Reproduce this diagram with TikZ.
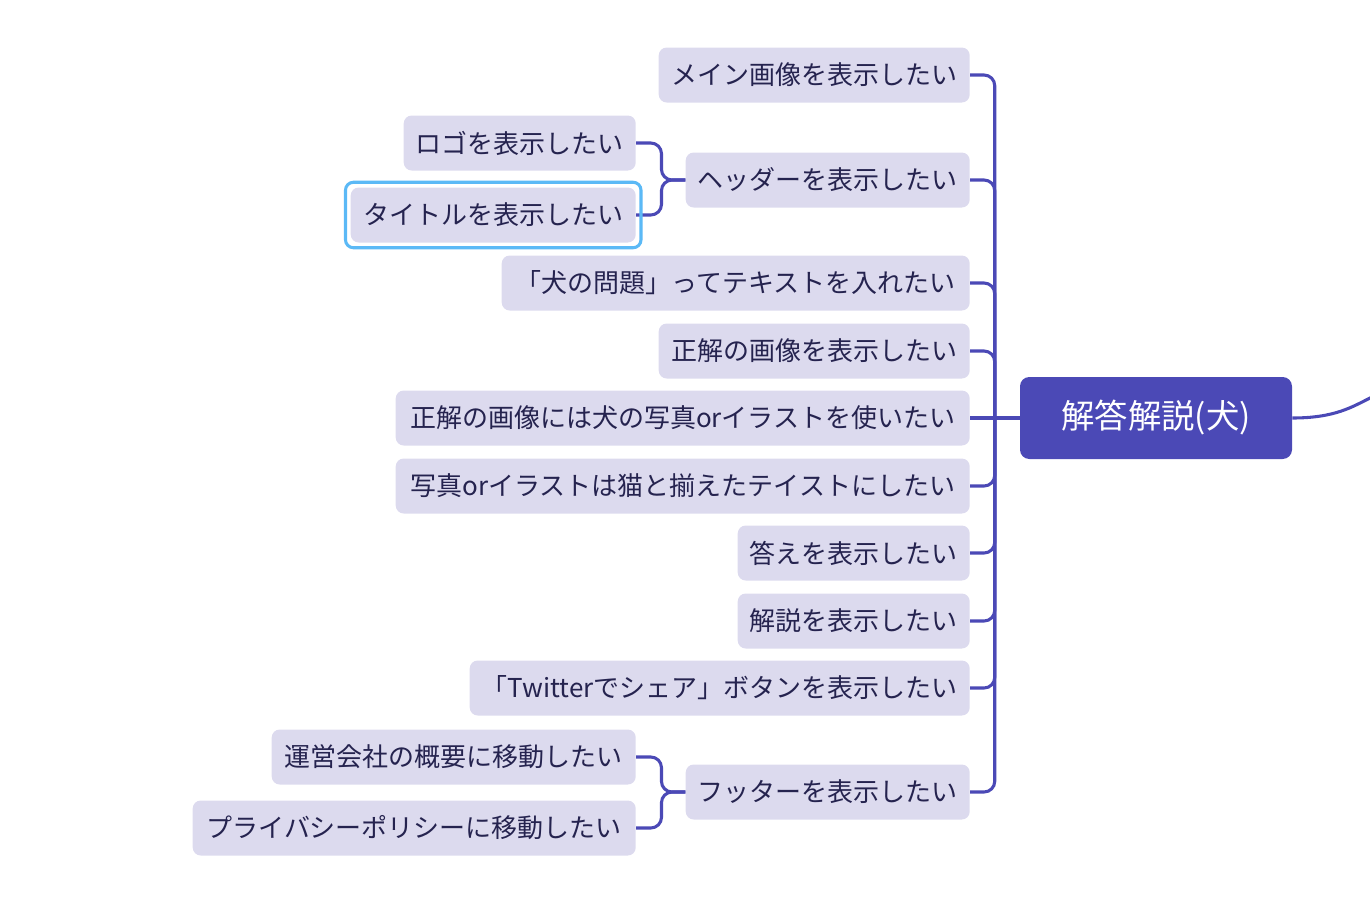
\documentclass[tikz,border=0pt]{standalone}
\usepackage{fontspec}
\setmainfont{Noto Sans CJK JP}
\usetikzlibrary{fit}
\definecolor{rootblue}{HTML}{4B49B6}
\definecolor{topicfill}{HTML}{DCDAEE}
\definecolor{topictext}{HTML}{25234F}
\definecolor{selblue}{HTML}{5BB9F6}
\begin{document}
\begin{tikzpicture}[x=0.75pt, y=-0.75pt]
    \tikzset{topic/.style={draw=none, fill=topicfill, rounded corners=6pt,
            text=topictext, font=\fontsize{19.5}{21}\selectfont,
            minimum height=55*0.75pt, minimum width=#1*0.75pt,
            inner sep=0pt, anchor=east},
        rootnode/.style={fill=rootblue, rounded corners=7pt, text=white,
            font=\fontsize{25}{27}\selectfont,
            minimum width=272*0.75pt, minimum height=82*0.75pt, inner sep=0pt},
        branch/.style={draw=rootblue, line width=2.3pt, rounded corners=8pt},
        selected/.style={draw=selblue, line width=2.3pt, rounded corners=6pt,
            inner sep=5*0.75pt}
    }
    \useasboundingbox (0,0) rectangle (1370,904);
    \node [rootnode] (root) at (1156,418) {解答解説(犬)};
    \coordinate (out) at (1372,397);
    \draw [branch] (root.east) .. controls (1335,418) and (1352,407) .. (out);
    \path (root.west) ++(-25,0) coordinate (hub);
    % first level topics
    \foreach \name/\w/\y/\txt in {
        main/311/75/メイン画像を表示したい,
        header/284/180/ヘッダーを表示したい,
        dogq/468/283/「犬の問題」ってテキストを入れたい,
        cimg/311/351/正解の画像を表示したい,
        taste/574/486/写真orイラストは猫と揃えたテイストにしたい,
        answer/232/553/答えを表示したい,
        expl/232/621/解説を表示したい,
        share/500/688/「Twitterでシェア」ボタンを表示したい,
        footer/284/792/フッターを表示したい} {
        \node [topic=\w] (\name) at (970,\y) {\txt};
        \draw [branch] (hub) |- (\name.east);
    }
    % the one level with the root
    \node [topic=574] (cphoto) at (970,418) {正解の画像には犬の写真orイラストを使いたい};
    \draw [branch] (root.west) -- (cphoto.east);
    % header children
    \node [topic=232] (logo) at (636,143) {ロゴを表示したい};
    \node [topic=285] (title) at (636,215) {タイトルを表示したい};
    \foreach \child in {logo, title} {
        \draw [branch] (header.west) -- ++(-24,0) |- (\child.east);
    }
    \node [selected, fit=(title)] (sel) {};
    % footer children
    \node [topic=364] (company) at (636,757) {運営会社の概要に移動したい};
    \node [topic=443] (privacy) at (636,828) {プライバシーポリシーに移動したい};
    \foreach \child in {company, privacy} {
        \draw [branch] (footer.west) -- ++(-24,0) |- (\child.east);
    }
\end{tikzpicture}
\end{document}
